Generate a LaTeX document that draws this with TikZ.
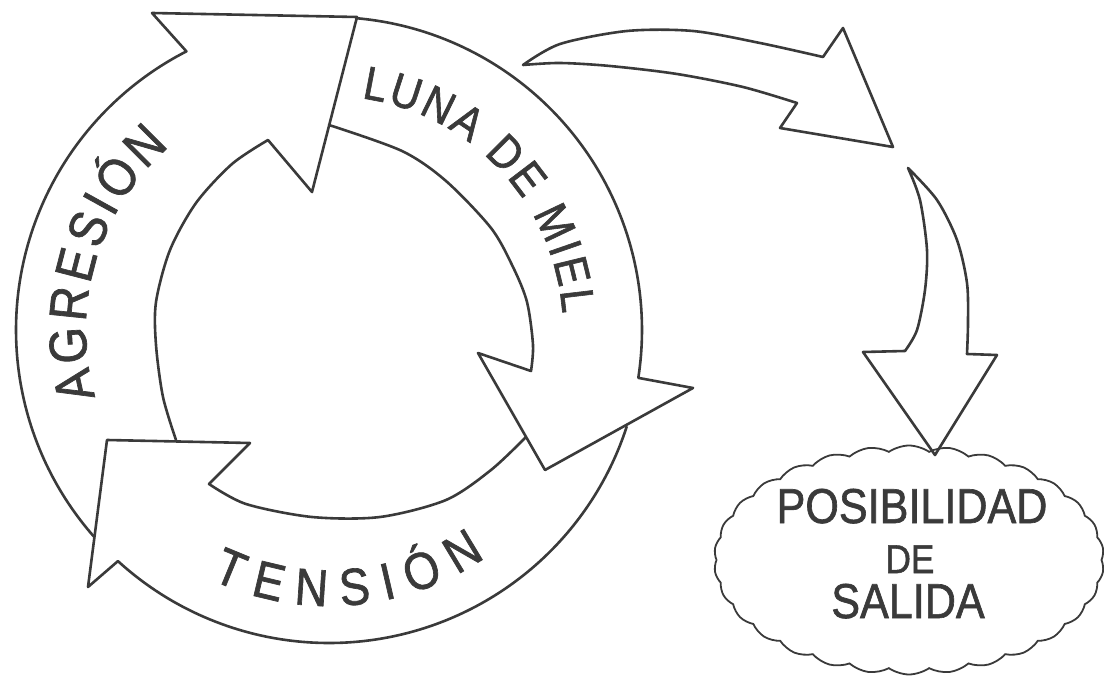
\documentclass[tikz,border=0pt]{standalone}
\usepackage{fontspec}
\newfontfamily\hand[FakeStretch=0.88,FakeBold=1.3]{Liberation Sans}
\usetikzlibrary{calc,decorations.text,shapes.symbols}
\definecolor{ink}{RGB}{58,58,58}
\begin{document}
\begin{tikzpicture}[x=1pt,y=1pt,
  band/.style={draw=ink,line width=2.6pt,line join=round,line cap=round},
  cloudshape/.style={draw=ink,line width=1.8pt,cloud,cloud puffs=30,cloud puff arc=70,aspect=1.7,minimum width=390pt,minimum height=229pt,inner sep=0pt},
  lbl/.style={text=ink,font=\hand\fontsize{49}{49}\selectfont,inner sep=0pt,anchor=base},
]
\useasboundingbox (0,0) rectangle (1104,-676);
\coordinate (C) at (329,-330);

% --- Agresion band
\draw[band] ($(C)+(221.3:313pt)$) arc[start angle=221.3,end angle=117.1,radius=313pt]
  -- (152,-13) -- (357,-17) -- (312,-192) -- (268,-140)
  -- plot[smooth] coordinates {(268,-140) (232,-164) (196,-203) (170,-250) (156,-302) (156,-345) (163,-397) (176,-440)};

% --- Luna de miel band
\draw[band] ($(C)+(84.9:313pt)$) arc[start angle=84.9,end angle=-8.8,radius=313pt]
  -- (693,-388) -- (545,-470) -- (478,-353) -- (531,-371)
  -- plot[smooth] coordinates {(531,-371) (533,-345) (527,-302) (513,-267) (491,-228) (446,-181) (402,-151) (329,-125)};

% --- Tension band
\draw[band] ($(C)+(-18:313pt)$) arc[start angle=-18,end angle=-132.4,radius=313pt]
  -- (88,-587) -- (107,-440) -- (250,-443) -- (209,-484)
  -- plot[smooth] coordinates {(209,-484) (246,-504) (312,-517) (380,-517) (446,-500) (491,-470) (526,-437)};

% --- curved labels
\path[decorate,decoration={text along path,text color=ink,text align=fit to path,
  text={|\hand\fontsize{53}{53}\selectfont|AGRESIÓN}}]
  ($(C)+(196:243pt)$) arc[start angle=196,end angle=131,radius=243pt];
\path[decorate,decoration={text along path,text color=ink,text align=fit to path,
  text={|\hand\fontsize{47}{47}\selectfont|LUNA DE MIEL}}]
  ($(C)+(82:234pt)$) arc[start angle=82,end angle=4,radius=234pt];
\path[decorate,decoration={text along path,text color=ink,text align=fit to path,
  text={|\hand\fontsize{52}{52}\selectfont|TENSIÓN}}]
  ($(C)+(-115.3:276pt)$) arc[start angle=-115.3,end angle=-55.5,radius=276pt];

% --- arrow to the right
\draw[band] plot[smooth] coordinates {(523,-65) (560,-44) (627,-31) (693,-31) (760,-43) (823,-57)}
  -- (843,-28) -- (893,-147) -- (780,-128) -- (797,-103)
  -- plot[smooth] coordinates {(797,-103) (743,-87) (677,-74) (610,-66) (560,-63) (523,-65)} -- cycle;

% --- arrow downwards
\draw[band] plot[smooth] coordinates {(908,-168) (920,-200) (927,-250) (925,-290) (917,-330) (905,-351)}
  -- (863,-352) -- (935,-455) -- (997,-355) -- (967,-354)
  -- plot[smooth] coordinates {(967,-354) (968,-323) (967,-283) (957,-240) (937,-200) (908,-168)} -- cycle;

% --- cloud
\node[cloudshape] (salida) at (909,-560) {};
\node[lbl] (t1) at (912,-523) {POSIBILIDAD};
\node[lbl,font=\hand\fontsize{40}{40}\selectfont] (t2) at (910,-573) {DE};
\node[lbl] (t3) at (908,-618) {SALIDA};
\end{tikzpicture}
\end{document}
